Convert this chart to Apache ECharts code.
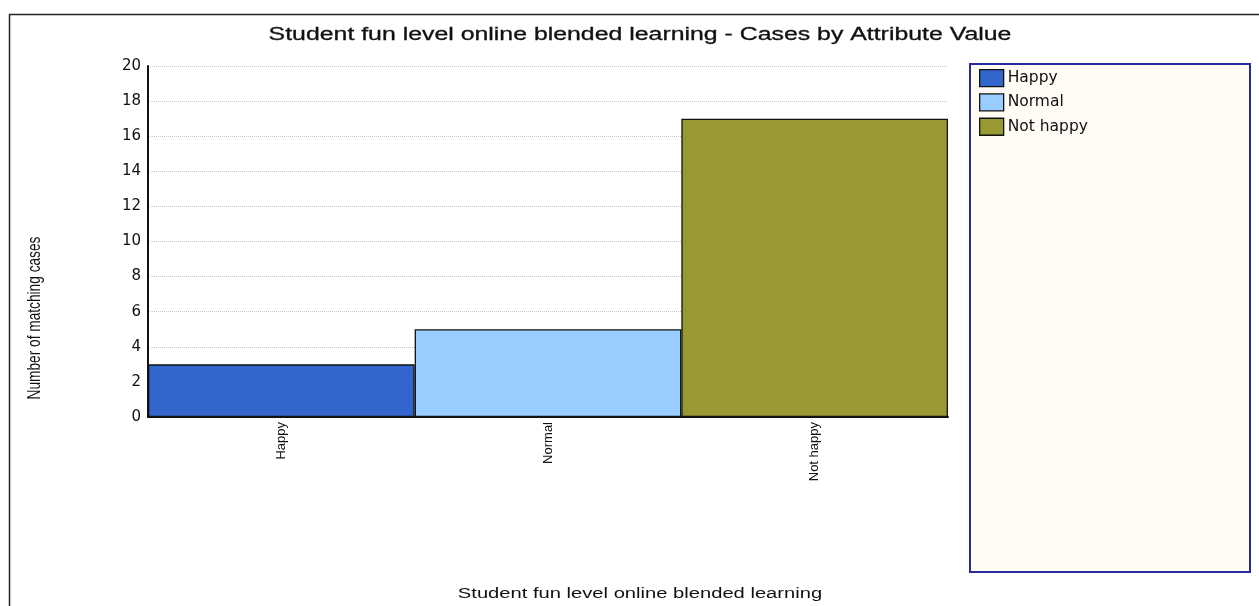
<!DOCTYPE html>
<html>
<head>
<meta charset="utf-8">
<script src="https://cdn.jsdelivr.net/npm/echarts@6/dist/echarts.min.js"></script>
<style>html,body{margin:0;padding:0;background:#fff;}#c{width:1259px;height:606px;}</style>
</head>
<body>
<div id="c"></div>
<script>
var categories = ['Happy', 'Normal', 'Not happy'];
var values = [3, 5, 17];
var colors = ['#3366cc', '#99ccff', '#999933'];
var titleText = 'Student fun level online blended learning - Cases by Attribute Value';
var xName = 'Student fun level online blended learning';
var yName = 'Number of matching cases';

var chart = echarts.init(document.getElementById('c'));
var sans = '"Liberation Sans", Arial, sans-serif';
var wide = '"DejaVu Sans", "Liberation Sans", sans-serif';

var series = categories.map(function (name, i) {
  var d = categories.map(function (c, j) { return j === i ? values[i] : '-'; });
  return {
    name: name,
    type: 'bar',
    stack: 'all',
    data: d,
    barWidth: '100%',
    itemStyle: { color: colors[i], borderColor: '#111', borderWidth: 1.3 }
  };
});

chart.setOption({
  animation: false,
  backgroundColor: '#fff',
  graphic: [
    { type: 'rect', shape: { x: 9.5, y: 14.5, width: 1260, height: 600 }, style: { fill: 'none', stroke: '#222', lineWidth: 1.5 }, silent: true },
    { type: 'rect', shape: { x: 970, y: 64, width: 280, height: 508 }, style: { fill: '#fffcf6', stroke: '#2a2aa0', lineWidth: 2 }, z: 0, silent: true },
    { type: 'text', x: 640, y: 35, scaleX: 1.42, style: { text: titleText, fontFamily: sans, fontSize: 17.5, fill: '#111', textAlign: 'center', textVerticalAlign: 'middle', stroke: '#111', lineWidth: 0.3 } },
    { type: 'text', x: 35, y: 318, rotation: Math.PI / 2, scaleY: 1.35, style: { text: yName, fontFamily: sans, fontSize: 13.7, fill: '#111', textAlign: 'center', textVerticalAlign: 'middle' } },
    { type: 'text', x: 640, y: 594, scaleX: 1.44, style: { text: xName, fontFamily: sans, fontSize: 14, fill: '#111', textAlign: 'center', textVerticalAlign: 'middle' } }
  ],
  legend: {
    orient: 'vertical', left: 979, top: 69, padding: 0,
    itemWidth: 24, itemHeight: 17, itemGap: 6,
    icon: 'rect',
    itemStyle: { borderColor: '#111', borderWidth: 1.3 },
    textStyle: { fontFamily: wide, fontSize: 15.5, color: '#111', padding: [0, 0, 0, -1] },
    data: categories
  },
  grid: { left: 148, top: 66, width: 800, height: 351, containLabel: false },
  xAxis: {
    type: 'category', data: categories,
    axisLine: { lineStyle: { color: '#111', width: 2 } },
    axisTick: { show: false },
    axisLabel: { rotate: 90, fontFamily: sans, fontSize: 13, color: '#111', margin: 5 }
  },
  yAxis: {
    type: 'value', min: 0, max: 20, interval: 2,
    axisLine: { show: true, lineStyle: { color: '#111', width: 2 } },
    axisTick: { show: false },
    axisLabel: { fontFamily: wide, fontSize: 15, color: '#111', margin: 7 },
    splitLine: { lineStyle: { color: '#c4c4c4', type: 'dotted', width: 1 } }
  },
  series: series
});
</script>
</body>
</html>
